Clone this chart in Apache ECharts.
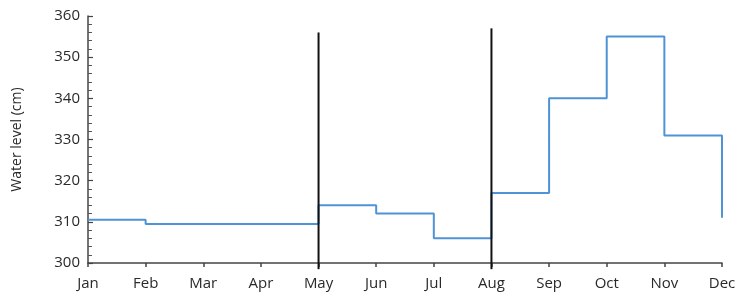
<!DOCTYPE html>
<html><head><meta charset="utf-8">
<script src="https://cdn.jsdelivr.net/npm/echarts@6/dist/echarts.min.js"></script>
<style>html,body{margin:0;padding:0;background:#fff}#c{width:740px;height:296px}</style>
</head><body><div id="c"></div>
<script>
const months = ['Jan','Feb','Mar','Apr','May','Jun','Jul','Aug','Sep','Oct','Nov','Dec'];
const waterLevel = [310.5, 309.5, 309.5, 309.5, 314, 312, 306, 317, 340, 355, 331, 311];
const markerMonths = ['May', 'Aug'];
const markerBottom = [298.5, 298.5];
const markerTop = [356, 357];
const yTicks = {min: 300, max: 360, interval: 10};

const chart = echarts.init(document.getElementById('c'), null, {renderer: 'canvas'});
const font = '"Open Sans", "Liberation Sans", sans-serif';
const series = [{
  type: 'line', step: 'end', data: waterLevel, symbol: 'none',
  lineStyle: {color: '#4f93d6', width: 2}, z: 3, clip: false
}];
markerMonths.forEach((m, i) => {
  series.push({
    type: 'line', data: [[m, markerBottom[i]], [m, markerTop[i]]], symbol: 'none',
    lineStyle: {color: '#111', width: 2}, clip: false, z: 4
  });
});
chart.setOption({
  animation: false,
  grid: {left: 88, right: 18, top: 16, bottom: 33},
  xAxis: {
    type: 'category', data: months, boundaryGap: false,
    axisLine: {lineStyle: {color: '#444', width: 1.5}},
    axisTick: {alignWithLabel: true, length: 4, lineStyle: {color: '#444', width: 1.5}},
    axisLabel: {color: '#2a2a2a', fontSize: 15, fontFamily: font, margin: 13},
    splitLine: {show: false}
  },
  yAxis: {
    type: 'value', min: yTicks.min, max: yTicks.max, interval: yTicks.interval,
    name: 'Water level (cm)', nameLocation: 'middle', nameGap: 64, nameRotate: 90,
    nameTextStyle: {color: '#2a2a2a', fontSize: 14, fontFamily: font},
    axisLine: {show: true, lineStyle: {color: '#444', width: 1.5}},
    axisTick: {show: true, inside: true, length: 5, lineStyle: {color: '#444', width: 1.2}},
    minorTick: {show: true, splitNumber: 5, length: 4, lineStyle: {color: '#555', width: 1}},
    axisLabel: {color: '#2a2a2a', fontSize: 15, fontFamily: font, margin: 8},
    splitLine: {show: false}
  },
  series: series
});
</script></body></html>
